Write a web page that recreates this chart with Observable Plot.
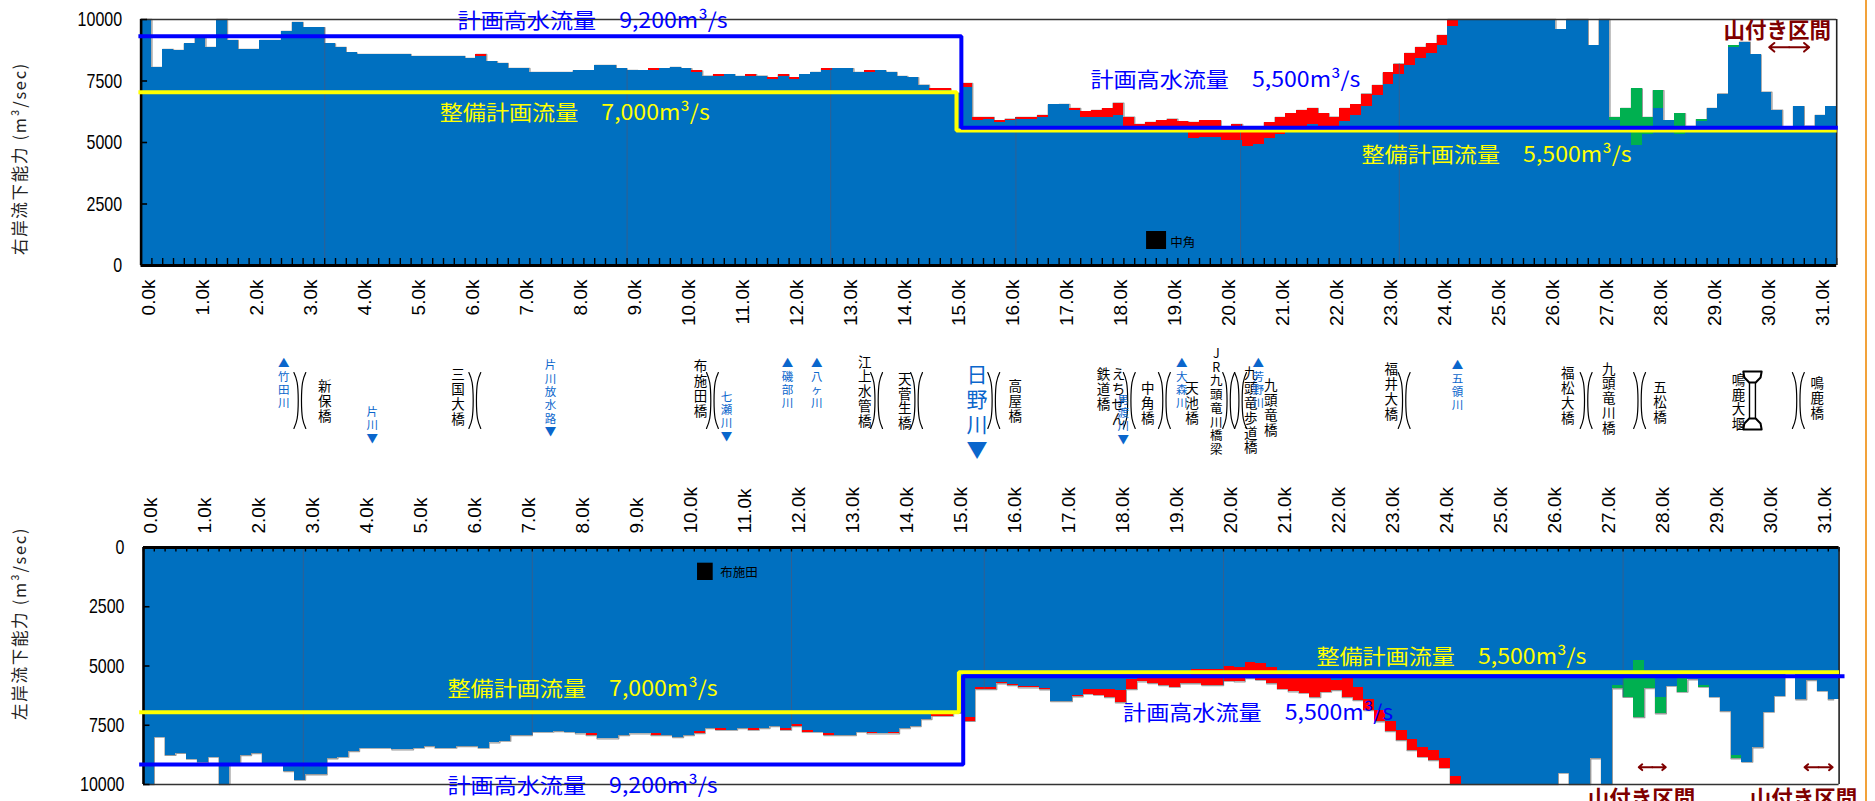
<!DOCTYPE html>
<html lang="ja">
<head>
<meta charset="utf-8">
<script src="https://cdn.jsdelivr.net/npm/d3@7"></script>
<script src="https://cdn.jsdelivr.net/npm/@observablehq/plot@0.6"></script>
<style>
html,body{margin:0;padding:0;background:#fff;width:1875px;height:801px;overflow:hidden}
#page{position:relative;width:1875px;height:801px;overflow:hidden}
#page svg{position:absolute;left:0;background:transparent;overflow:hidden}
#edge{position:absolute;left:1865px;top:0;width:2px;height:801px;background:#f2a23a}
.spaced{letter-spacing:1.7px}
</style>
</head>
<body>
<div id="page"></div>
<script>
// ---- distance of each bar centre is index × 0.2 k ----
const topBlue = [
10000,8050,8780,8740,9010,9250,8860,10000,9150,8780,
8780,9150,9150,9510,9880,9670,9670,9010,8860,8640,
8580,8580,8580,8580,8580,8500,8500,8500,8500,8500,
8420,8500,8280,8210,8010,8010,7850,7850,7850,7850,
7910,7910,8130,8130,8000,7930,7910,7910,8000,8050,
8000,7830,7700,7680,7760,7680,7680,7700,7560,7680,
7560,7760,7850,7910,8000,8000,7850,7830,7910,7850,
7680,7630,7330,7110,7110,7000,7250,5880,5950,5810,
5880,5950,5950,6030,6530,6545,6300,6030,6030,6030,
6100,5600,5600,5600,5500,5600,5550,5150,5220,5220,
5080,5080,4850,4920,5150,5310,5450,5500,5730,5550,
5550,5850,6100,6460,6910,7340,7760,8130,8430,8630,
8940,9730,10000,10000,10000,10000,10000,10000,10000,10000,
10000,9590,10000,10000,8940,10000,5880,5500,4880,5330,
6380,5880,5310,5650,5860,6380,6970,8860,9080,8560,
7040,6310,5400,6460,5660,6100,6460];
const topTotal = [
10000,8050,8780,8740,9010,9250,8860,10000,9150,8780,
8780,9150,9150,9510,9880,9670,9670,9010,8860,8640,
8580,8580,8580,8580,8580,8500,8500,8500,8500,8500,
8420,8580,8280,8210,8010,8010,7850,7850,7850,7850,
7910,7910,8130,8130,8000,7930,7910,8000,8000,8050,
8000,7910,7700,7760,7760,7680,7760,7700,7630,7760,
7630,7760,7850,8000,8000,8000,7850,7910,7910,7850,
7680,7630,7330,7180,7180,7000,7400,6016,6016,5880,
5950,6016,6016,6100,6530,6545,6380,6250,6300,6370,
6600,6030,5730,5810,5880,5950,5850,5810,5880,5880,
5600,5730,5600,5620,5800,6020,6170,6300,6380,6170,
6030,6380,6530,6970,7320,7830,8190,8620,8860,9010,
9350,10000,10000,10000,10000,10000,10000,10000,10000,10000,
10000,9590,10000,10000,8940,10000,6020,6380,7180,6020,
7110,5880,6170,5650,5930,6380,6970,8940,9080,8560,
7040,6310,5400,6460,5660,6100,6460];
const bottomBlue = [
10000,8000,8770,8680,8930,9070,8845,10000,9100,8776,
8690,9150,9150,9450,9815,9590,9590,8916,8846,8607,
8466,8466,8466,8537,8537,8466,8396,8466,8466,8396,
8396,8466,8242,8171,7932,7932,7790,7790,7763,7790,
7862,7862,8073,8073,7932,7862,7862,7862,7932,8017,
7932,7763,7637,7637,7707,7637,7637,7637,7553,7637,
7482,7707,7790,7848,7932,7932,7790,7790,7862,7790,
7637,7553,7257,7060,7060,7000,7160,5921,5921,5710,
5766,5865,5865,5949,6497,6497,6240,5991,5991,5991,
6033,5583,5513,5500,5500,5500,5500,5133,5133,5133,
5020,5077,4866,4908,5077,5218,5500,5500,5500,5527,
5611,5513,5893,6413,6891,7341,7720,8086,8423,8564,
8916,9660,10000,10000,10000,10000,10000,10000,10000,10000,
10000,9520,10000,10000,8916,10000,5821,5500,4766,5500,
6341,5849,5540,5582,5821,6313,6900,8788,9055,8450,
6946,6271,5300,6425,5610,6060,6425];
const bottomTotal = [
10000,8000,8770,8680,8930,9070,8845,10000,9100,8776,
8690,9150,9150,9450,9815,9590,9590,8916,8846,8607,
8466,8466,8466,8537,8537,8466,8396,8466,8466,8396,
8396,8466,8242,8171,7932,7932,7790,7790,7763,7790,
7862,7932,8073,8073,7932,7862,7862,7932,7932,8017,
7932,7848,7637,7707,7707,7637,7707,7637,7553,7707,
7553,7790,7790,7932,7932,7932,7790,7862,7862,7862,
7637,7553,7257,7117,7117,7000,7330,5991,5991,5752,
5822,5921,5921,6005,6497,6497,6300,6188,6230,6328,
6553,5991,5668,5738,5822,5893,5752,5752,5822,5822,
5640,5668,5527,5597,5752,5977,6090,6146,6328,6104,
6033,6328,6455,6877,7355,7763,8142,8564,8845,8986,
9309,10000,10000,10000,10000,10000,10000,10000,10000,10000,
10000,9520,10000,10000,8916,10000,5961,6320,7180,5950,
7016,5849,6102,5582,5891,6313,6918,8914,9055,8450,
6946,6271,5300,6425,5610,6060,6425];
const greenFromBar = 136;

const kmTicks = d3.range(0, 32);
const yTicks = [0, 2500, 5000, 7500, 10000];

const topSections = [3.3, 8.9, 12.67, 16.1, 20.26, 23.2];
const bottomSections = [2.86, 7.1, 11.9, 15.47, 19.9, 27.3];

const topPlanKm = [-0.15, 15.09, 15.09, 31.32];
const topPlanValue = [9320, 9320, 5600, 5600];
const topWorkKm = [-0.15, 15.0, 15.0, 31.3];
const topWorkValue = [7045, 7045, 5490, 5490];
const bottomPlanKm = [-0.18, 15.08, 15.08, 31.4];
const bottomPlanValue = [9156, 9156, 5430, 5430];
const bottomWorkKm = [-0.18, 15.0, 15.0, 31.3];
const bottomWorkValue = [6950, 6950, 5260, 5260];

const planText1 = "計画高水流量　9,200m³/s";
const planText2 = "計画高水流量　5,500m³/s";
const workText1 = "整備計画流量　7,000m³/s";
const workText2 = "整備計画流量　5,500m³/s";
const hillText = "山付き区間";

const topNotes = [
  {t: planText1, km: 8.26, v: 9920, c: "#0000ff"},
  {t: workText1, km: 7.93, v: 6180, c: "#ffff00"},
  {t: planText2, km: 19.98, v: 7520, c: "#0000ff"},
  {t: workText2, km: 25.0, v: 4470, c: "#ffff00"}
];
const bottomNotes = [
  {t: workText1, km: 8.03, v: 5895, c: "#ffff00"},
  {t: planText1, km: 8.03, v: 10000, c: "#0000ff"},
  {t: workText2, km: 24.12, v: 4557, c: "#ffff00"},
  {t: planText2, km: 20.54, v: 6920, c: "#0000ff"}
];
const topHill = [{km: 30.2, v: 9520}];
const bottomHill = [{km: 27.64, v: 10000}, {km: 30.64, v: 10000}];
const topArrows = [{km: 30.42, half: 0.37, v: 8870}];
const bottomArrows = [{km: 27.84, half: 0.25, v: 9270}, {km: 30.92, half: 0.26, v: 9270}];

const topGauge = {name: "中角", x1: 18.52, x2: 18.89, y1: 650, y2: 1382, tx: 18.96, ty: 930};
const bottomGauge = {name: "布施田", x1: 10.16, x2: 10.45, y1: 662, y2: 1392, tx: 10.58, ty: 1090};

const bridgeNames = ["新保橋","三国大橋","布施田橋","江上水管橋","天菅生橋","高屋橋","鉄道橋","えちぜん","中角橋","天池橋","九頭竜歩道橋","九頭竜橋","福井大橋","福松大橋","九頭竜川橋","五松橋","鳴鹿大堰","鳴鹿橋"];
const bridgeKm = [3.30,5.77,10.26,13.30,14.04,16.09,17.72,18.00,18.54,19.36,20.45,20.82,23.05,26.32,27.08,28.03,29.48,30.94];
const bridgeRow = [60.7,56,48,51,60.7,61,49,56,62.5,62.5,70,67,51,55,58,61.7,61.7,58];
const railBridge = [{t: "JR九頭竜川橋梁", km: 19.81, row: 61}];

const riverNames = ["▲竹田川","片川▼","片川放水路▼","七瀬川▼","▲磯部川","▲八ヶ川","男渡川▼","▲大森川","▲芳野川","▲五領川"];
const riverKm = [2.54,4.18,7.48,10.74,11.87,12.41,18.09,19.17,20.59,24.28];
const riverRow = [42.7,84.5,58,76,42.7,42.7,79,42.7,42.7,44.5];

const mainRiver = [{t: "日野川▼", km: 15.38, row: 71}];
const bracketKm = [2.84,6.08,10.48,13.52,14.26,15.69,18.20,18.85,20.04,20.26,23.29,26.66,27.65,30.59];
const damKm = 29.74;

// ---------------------------------------------------------------
const FONT_JP = "'Noto Sans CJK JP','Noto Sans',sans-serif";
const FONT_NUM = "'Liberation Sans','Noto Sans',sans-serif";
const BLUE = "#0070c0", RED = "#ff0000", GREEN = "#00b050", HILL = "#7f0000";

function panel(o) {
  const bars = d3.range(o.blue.length);
  const km = i => i * 0.2;
  const top = o.side === "top";
  const boundaries = d3.range(0, 158).map(i => i * 0.2 - 0.1);
  const lastBoundary = 31.3;
  const extra = bars.filter(i => o.total[i] > o.blue[i]);
  const valueAt = k => o.total[Math.round(k / 0.2)];
  const line = (xs, ys, stroke) => Plot.line(xs.map((x, i) => ({x, y: ys[i]})), {
    x: "x", y: "y", stroke, strokeWidth: 4, strokeLinejoin: "miter", strokeLinecap: "butt", clip: false
  });
  const arrows = o.arrows.flatMap(a => [
    Plot.arrow([a], {x1: d => d.km, x2: d => d.km - d.half, y1: "v", y2: "v", stroke: HILL, strokeWidth: 2, headLength: 15, headAngle: 80, bend: 0, inset: 0}),
    Plot.arrow([a], {x1: d => d.km, x2: d => d.km + d.half, y1: "v", y2: "v", stroke: HILL, strokeWidth: 2, headLength: 15, headAngle: 80, bend: 0, inset: 0})
  ]);
  const svg = Plot.plot({
    width: 1875,
    height: o.height,
    marginTop: o.marginTop,
    marginBottom: o.marginBottom,
    marginLeft: o.marginLeft,
    marginRight: 1875 - o.marginLeft - 157 * 10.8,
    x: {domain: [-0.1, lastBoundary], axis: null},
    y: {domain: [0, 10000], reverse: !top, clamp: true, axis: null},
    style: {fontFamily: FONT_NUM, background: "transparent"},
    marks: [
      Plot.line(bars, {x: km, y: i => o.total[i], curve: "step", stroke: "#9a9a9a", strokeWidth: 1.4}),
      Plot.rect(bars, {x1: i => km(i) - 0.1, x2: i => km(i) + 0.1, y1: 0, y2: i => o.blue[i], fill: BLUE, shapeRendering: "crispEdges"}),
      Plot.rect(extra, {x1: i => km(i) - 0.1, x2: i => km(i) + 0.1, y1: i => o.blue[i], y2: i => o.total[i], fill: i => i >= greenFromBar ? GREEN : RED, shapeRendering: "crispEdges"}),
      Plot.ruleX(o.sections, {x: d => d, y1: 0, y2: valueAt, stroke: "#3e5c86", strokeWidth: 0.8}),
      Plot.ruleX(boundaries, {x: d => d, y1: 0, y2: top ? 285 : 190, stroke: "#000", strokeWidth: 1.4}),
      Plot.rect([o.gauge], {x1: "x1", x2: "x2", y1: "y1", y2: "y2", fill: "#000"}),
      Plot.text([o.gauge], {x: "tx", y: "ty", text: "name", textAnchor: "start", fill: "#000", fontSize: 12.5, fontFamily: FONT_JP}),
      // frame
      Plot.ruleY([0], {stroke: "#000", strokeWidth: 3}),
      Plot.ruleY([10000], {stroke: "#333", strokeWidth: 1.6}),
      Plot.ruleX([-0.1], {stroke: "#000", strokeWidth: 2.6}),
      Plot.ruleX([lastBoundary], {stroke: "#222", strokeWidth: 1.6}),
      Plot.ruleY(yTicks, {x1: -0.1, x2: 0.02, y: d => d, stroke: "#000", strokeWidth: 1.6}),
      // plan lines
      line(o.workKm, o.workValue, "#ffff00"),
      line(o.planKm, o.planValue, "#0000ff"),
      // notes
      Plot.text(o.notes, {x: "km", y: "v", text: "t", fill: "c", fontSize: 21, fontFamily: FONT_JP, className: "plan", dy: top ? 0 : 2}),
      Plot.text(o.hill, {x: "km", y: "v", text: () => hillText, fill: HILL, fontSize: 21.5, fontWeight: 700, fontFamily: FONT_JP, dy: top ? 0 : 15}),
      ...arrows,
      // axes as text
      Plot.text(kmTicks, {
        x: d => d, text: d => d.toFixed(1) + "k",
        frameAnchor: top ? "bottom" : "top", dx: 2, dy: top ? 14 : -14,
        rotate: -90, textAnchor: top ? "end" : "start", lineAnchor: "middle",
        fontSize: 19, fontFamily: FONT_NUM, fill: "#000"
      }),
      Plot.text(yTicks, {
        y: d => d, text: d => String(d), frameAnchor: "left", dx: -19, textAnchor: "end",
        fontSize: 21, fontFamily: FONT_NUM, fill: "#000", className: "ynum"
      }),
      Plot.text([o.title], {
        x: o.titleKm, y: o.titleValue, text: d => d, rotate: -90, fontSize: 16.5,
        fontFamily: FONT_JP, fill: "#222", className: "spaced"
      })
    ]
  });
  // the reference's numerals and notes are condensed / stretched: fit them to its widths
  d3.select(svg).selectAll(".ynum text").each(function () {
    d3.select(this).attr("textLength", this.textContent.length * 8.9).attr("lengthAdjust", "spacingAndGlyphs");
  });
  d3.select(svg).selectAll(".plan text").attr("textLength", 270).attr("lengthAdjust", "spacingAndGlyphs");
  return svg;
}

const page = document.getElementById("page");

const topSvg = panel({
  side: "top", height: 340, marginTop: 19, marginBottom: 75, marginLeft: 140.6,
  blue: topBlue, total: topTotal, sections: topSections,
  planKm: topPlanKm, planValue: topPlanValue, workKm: topWorkKm, workValue: topWorkValue,
  notes: topNotes, hill: topHill, arrows: topArrows, gauge: topGauge,
  title: "右岸流下能力 (m³/sec)", titleKm: -2.33, titleValue: 4350
});
topSvg.style.top = "0px";
page.appendChild(topSvg);

// ---- band between the two panels ----
const vertical = s => [...s].join("\n");
const bracketPts = bracketKm.flatMap((k, id) => [-1, 1].flatMap(side => [
  {id: id + "" + side, x: k + side * 0.11, y: 32},
  {id: id + "" + side, x: k + side * 0.05, y: 42},
  {id: id + "" + side, x: k + side * 0.03, y: 60},
  {id: id + "" + side, x: k + side * 0.05, y: 78},
  {id: id + "" + side, x: k + side * 0.11, y: 88}
]));
const damCaps = [
  [{x: damKm - 0.17, y: 31}, {x: damKm + 0.17, y: 31}, {x: damKm + 0.15, y: 37}, {x: damKm + 0.06, y: 42}, {x: damKm - 0.06, y: 42}, {x: damKm - 0.15, y: 37}],
  [{x: damKm - 0.17, y: 89}, {x: damKm + 0.17, y: 89}, {x: damKm + 0.15, y: 83}, {x: damKm + 0.06, y: 78}, {x: damKm - 0.06, y: 78}, {x: damKm - 0.15, y: 83}]
];
const midSvg = Plot.plot({
  width: 1875, height: 150,
  marginTop: 0, marginBottom: 0, marginLeft: 140.6, marginRight: 1875 - 140.6 - 157 * 10.8,
  x: {domain: [-0.1, 31.3], axis: null},
  y: {domain: [-10, 140], range: [0, 150], axis: null},
  style: {background: "transparent"},
  marks: [
    Plot.line(bracketPts, {x: "x", y: "y", z: "id", curve: "natural", stroke: "#000", strokeWidth: 1.2}),
    Plot.ruleX([damKm - 0.055, damKm + 0.055], {x: d => d, y1: 32, y2: 88, stroke: "#000", strokeWidth: 1.4}),
    ...damCaps.map(c => Plot.line(c, {x: "x", y: "y", curve: "linear-closed", fill: "#fff", stroke: "#000", strokeWidth: 2})),
    Plot.text(bridgeNames, {
      x: (d, i) => bridgeKm[i], y: (d, i) => bridgeRow[i], text: vertical,
      fontSize: 13.5, lineHeight: 1.1, lineAnchor: "middle", fontFamily: FONT_JP, fill: "#000"
    }),
    Plot.text(railBridge, {
      x: "km", y: "row", text: d => vertical(d.t),
      fontSize: 12.5, lineHeight: 1.1, lineAnchor: "middle", fontFamily: FONT_JP, fill: "#000"
    }),
    Plot.text(riverNames, {
      x: (d, i) => riverKm[i], y: (d, i) => riverRow[i], text: vertical,
      fontSize: 11.5, lineHeight: 1.16, lineAnchor: "middle", fontFamily: FONT_JP, fill: "#0a66cc"
    }),
    Plot.text(mainRiver, {
      x: "km", y: "row", text: d => vertical(d.t),
      fontSize: 21, lineHeight: 1.2, lineAnchor: "middle", fontFamily: FONT_JP, fill: "#0a66cc"
    })
  ]
});
midSvg.style.top = "330px";
page.appendChild(midSvg);

const bottomSvg = panel({
  side: "bottom", height: 331, marginTop: 77, marginBottom: 17, marginLeft: 143,
  blue: bottomBlue, total: bottomTotal, sections: bottomSections,
  planKm: bottomPlanKm, planValue: bottomPlanValue, workKm: bottomWorkKm, workValue: bottomWorkValue,
  notes: bottomNotes, hill: bottomHill, arrows: bottomArrows, gauge: bottomGauge,
  title: "左岸流下能力 (m³/sec)", titleKm: -2.38, titleValue: 3200
});
bottomSvg.style.top = "470px";
page.appendChild(bottomSvg);

const edge = document.createElement("div");
edge.id = "edge";
page.appendChild(edge);
</script>
</body>
</html>
